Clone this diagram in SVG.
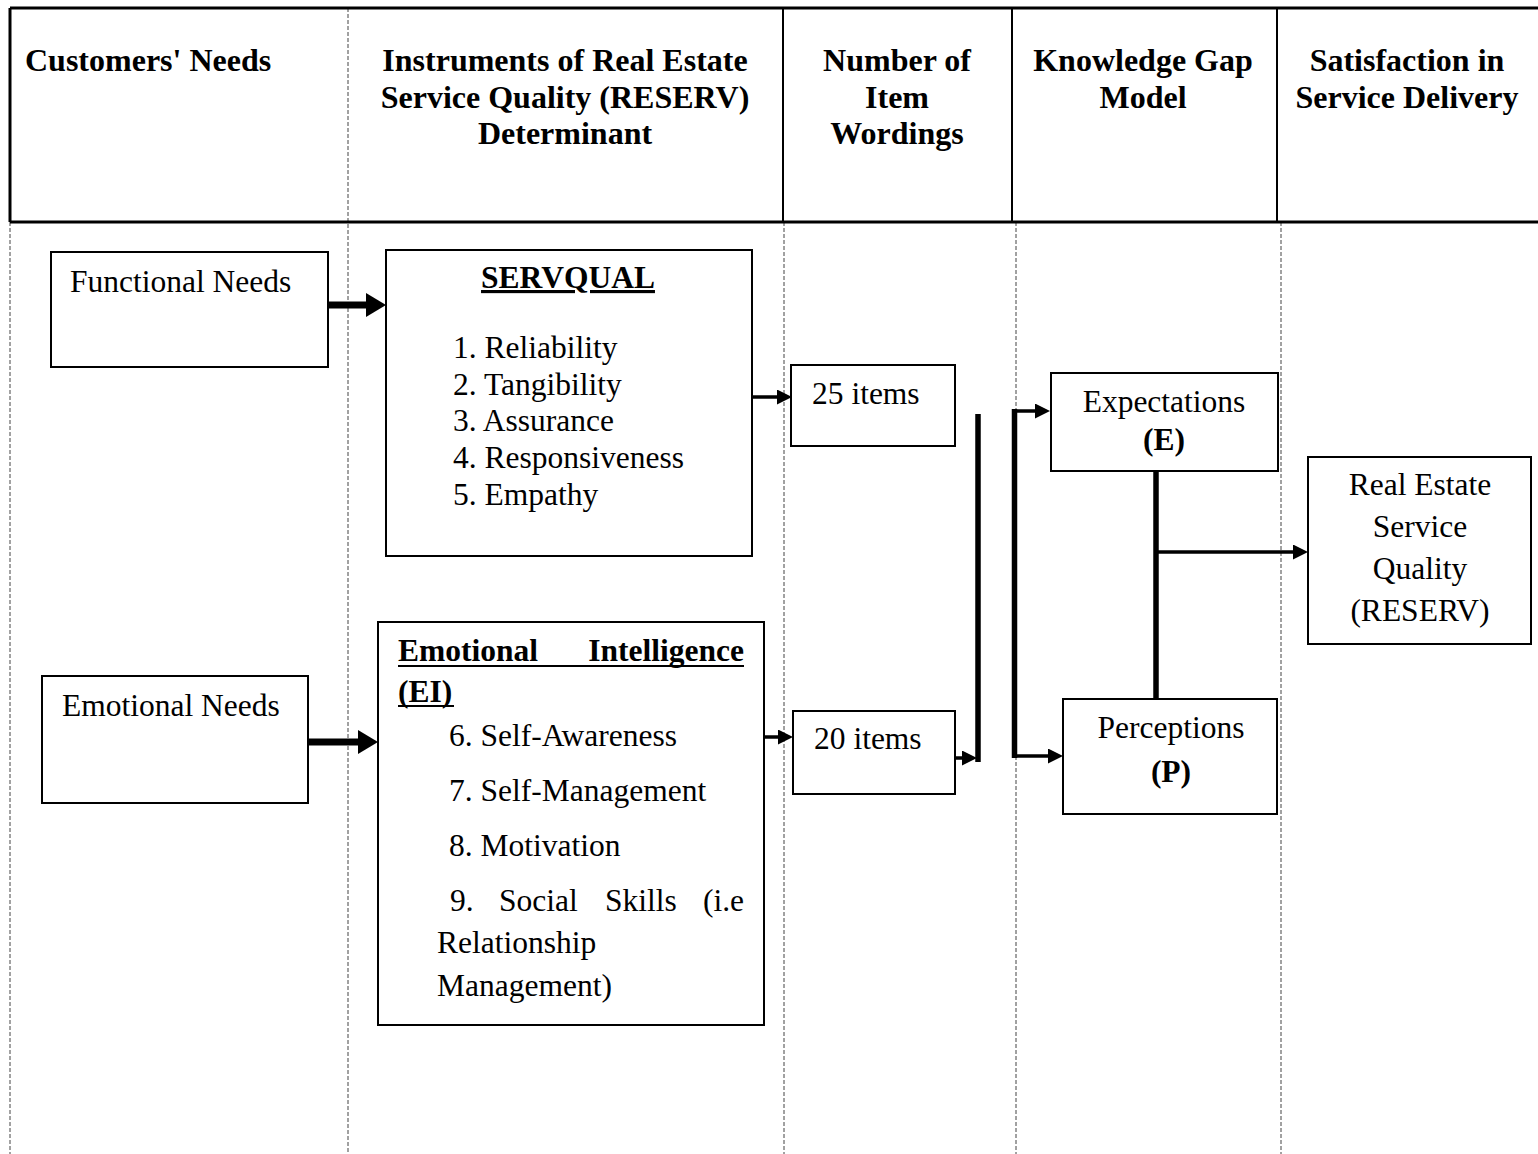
<svg xmlns="http://www.w3.org/2000/svg" width="1538" height="1154" viewBox="0 0 1538 1154">
<style>
  .hdr{font-family:"Liberation Serif","Times New Roman",serif;font-weight:bold;font-size:32px;fill:#000}
  .t{font-family:"Liberation Serif","Times New Roman",serif;font-size:31.5px;fill:#000}
  .b{font-weight:bold}
  .box{fill:#fff;stroke:#000;stroke-width:2}
  .dash{stroke:#444;stroke-width:1;stroke-dasharray:4 2;fill:none}
  .frame{stroke:#000;stroke-width:3;fill:none}
  .col{stroke:#000;stroke-width:2;fill:none}
  .thick{stroke:#000;stroke-width:7;fill:none}
  .mid{stroke:#000;stroke-width:5.5;fill:none}
  .thin{stroke:#000;stroke-width:3.5;fill:none}
  .ul{stroke:#000;stroke-width:2}
</style>
<defs>
  <marker id="bigHead" markerUnits="userSpaceOnUse" markerWidth="20" markerHeight="24" refX="0" refY="12" orient="auto" viewBox="0 0 20 24">
    <path d="M0,0 L20,12 L0,24 Z" fill="#000"/>
  </marker>
  <marker id="smallHead" markerUnits="userSpaceOnUse" markerWidth="15" markerHeight="15" refX="0" refY="7.5" orient="auto" viewBox="0 0 15 15">
    <path d="M0,0 L15,7.5 L0,15 Z" fill="#000"/>
  </marker>
</defs>
<rect width="1538" height="1154" fill="#fff"/>

<g id="grid">
  <line class="dash" x1="10" y1="222" x2="10" y2="1154"/>
  <line class="dash" x1="348" y1="8" x2="348" y2="1154"/>
  <line class="dash" x1="784" y1="222" x2="784" y2="1154"/>
  <line class="dash" x1="1016" y1="222" x2="1016" y2="1154"/>
  <line class="dash" x1="1281" y1="222" x2="1281" y2="1154"/>
  <line class="col" x1="783" y1="8" x2="783" y2="222"/>
  <line class="col" x1="1012" y1="8" x2="1012" y2="222"/>
  <line class="col" x1="1277" y1="8" x2="1277" y2="222"/>
  <line class="frame" x1="10" y1="8" x2="1538" y2="8"/>
  <line class="frame" x1="10" y1="222" x2="1538" y2="222"/>
  <line class="frame" x1="10" y1="8" x2="10" y2="222"/>
</g>

<g id="headers">
  <text class="hdr" x="25" y="71">Customers' Needs</text>
  <text class="hdr" text-anchor="middle" x="565" y="71">Instruments of Real Estate</text>
  <text class="hdr" text-anchor="middle" x="565" y="108">Service Quality (RESERV)</text>
  <text class="hdr" text-anchor="middle" x="565" y="144">Determinant</text>
  <text class="hdr" text-anchor="middle" x="897" y="71">Number of</text>
  <text class="hdr" text-anchor="middle" x="897" y="108">Item</text>
  <text class="hdr" text-anchor="middle" x="897" y="144">Wordings</text>
  <text class="hdr" text-anchor="middle" x="1143" y="71">Knowledge Gap</text>
  <text class="hdr" text-anchor="middle" x="1143" y="108">Model</text>
  <text class="hdr" text-anchor="middle" x="1407" y="71">Satisfaction in</text>
  <text class="hdr" text-anchor="middle" x="1407" y="108">Service Delivery</text>
</g>

<g id="connectors">
  <line class="thick" x1="328" y1="305" x2="366" y2="305" marker-end="url(#bigHead)"/>
  <line class="thick" x1="308" y1="742" x2="358" y2="742" marker-end="url(#bigHead)"/>
  <line class="thin" x1="752" y1="397" x2="777" y2="397" marker-end="url(#smallHead)"/>
  <line class="thin" x1="764" y1="737" x2="778" y2="737" marker-end="url(#smallHead)"/>
  <line class="thin" x1="955" y1="758" x2="962" y2="758" marker-end="url(#smallHead)"/>
  <line class="mid" x1="978" y1="414" x2="978" y2="762"/>
  <line class="mid" x1="1014.5" y1="409" x2="1014.5" y2="758"/>
  <line class="thin" x1="1014.5" y1="411" x2="1035" y2="411" marker-end="url(#smallHead)"/>
  <line class="thin" x1="1014.5" y1="756" x2="1048" y2="756" marker-end="url(#smallHead)"/>
  <line class="mid" x1="1156" y1="471" x2="1156" y2="699"/>
  <line class="thin" x1="1156" y1="552" x2="1293" y2="552" marker-end="url(#smallHead)"/>
</g>

<g id="functional-needs">
  <rect class="box" x="51" y="252" width="277" height="115"/>
  <text class="t" x="70" y="292">Functional Needs</text>
</g>

<g id="emotional-needs">
  <rect class="box" x="42" y="676" width="266" height="127"/>
  <text class="t" x="62" y="716">Emotional Needs</text>
</g>

<g id="servqual">
  <rect class="box" x="386" y="250" width="366" height="306"/>
  <text class="t b" text-anchor="middle" x="568" y="288" text-decoration="underline">SERVQUAL</text>
  <text class="t" x="453" y="358">1. Reliability</text>
  <text class="t" x="453" y="395">2. Tangibility</text>
  <text class="t" x="453" y="431">3. Assurance</text>
  <text class="t" x="453" y="468">4. Responsiveness</text>
  <text class="t" x="453" y="505">5. Empathy</text>
</g>

<g id="emotional-intelligence">
  <rect class="box" x="378" y="622" width="386" height="403"/>
  <text class="t b" x="398" y="661">Emotional</text>
  <text class="t b" text-anchor="end" x="744" y="661">Intelligence</text>
  <line class="ul" x1="398" y1="666" x2="744" y2="666"/>
  <text class="t b" x="398" y="702">(EI)</text>
  <line class="ul" x1="398" y1="706" x2="454" y2="706"/>
  <text class="t" x="449" y="746">6. Self-Awareness</text>
  <text class="t" x="449" y="801">7. Self-Management</text>
  <text class="t" x="449" y="856">8. Motivation</text>
  <text class="t" y="911"><tspan x="450">9.</tspan><tspan x="499">Social</tspan><tspan x="605">Skills</tspan></text>
  <text class="t" text-anchor="end" x="744" y="911">(i.e</text>
  <text class="t" x="437" y="953">Relationship</text>
  <text class="t" x="437" y="996">Management)</text>
</g>

<g id="items-25">
  <rect class="box" x="791" y="365" width="164" height="81"/>
  <text class="t" x="812" y="404">25 items</text>
</g>

<g id="items-20">
  <rect class="box" x="793" y="711" width="162" height="83"/>
  <text class="t" x="814" y="749">20 items</text>
</g>

<g id="expectations">
  <rect class="box" x="1051" y="373" width="227" height="98"/>
  <text class="t" text-anchor="middle" x="1164" y="412">Expectations</text>
  <text class="t b" text-anchor="middle" x="1164" y="450">(E)</text>
</g>

<g id="perceptions">
  <rect class="box" x="1063" y="699" width="214" height="115"/>
  <text class="t" text-anchor="middle" x="1171" y="738">Perceptions</text>
  <text class="t b" text-anchor="middle" x="1171" y="782">(P)</text>
</g>

<g id="reserv">
  <rect class="box" x="1308" y="457" width="223" height="187"/>
  <text class="t" text-anchor="middle" x="1420" y="495">Real Estate</text>
  <text class="t" text-anchor="middle" x="1420" y="537">Service</text>
  <text class="t" text-anchor="middle" x="1420" y="579">Quality</text>
  <text class="t" text-anchor="middle" x="1420" y="621">(RESERV)</text>
</g>
</svg>
